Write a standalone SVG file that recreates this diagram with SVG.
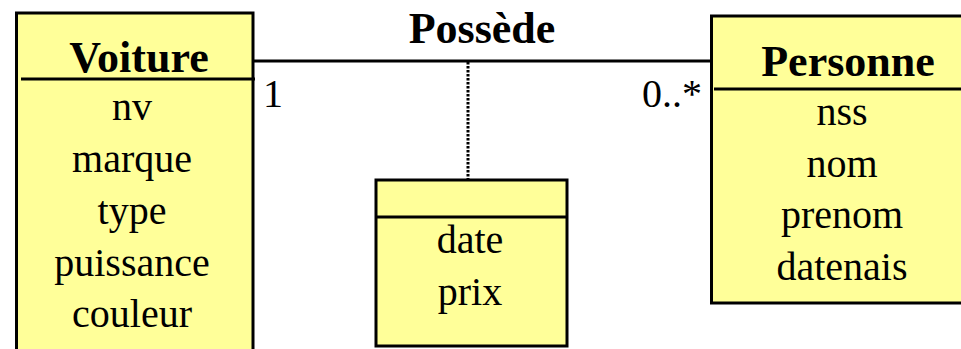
<svg xmlns="http://www.w3.org/2000/svg" width="961" height="349" viewBox="0 0 961 349">
<style>
.box{fill:#FFFF99;stroke:#000;stroke-width:3}
.sep{stroke:#000;stroke-width:3}
.title{font-family:"Liberation Serif","Times New Roman",serif;font-weight:bold;font-size:44px;text-anchor:middle;fill:#000}
.attr{font-family:"Liberation Serif","Times New Roman",serif;font-size:40px;text-anchor:middle;fill:#000}
.mult{font-family:"Liberation Serif","Times New Roman",serif;font-size:40px;fill:#000}
.assoc{stroke:#000;stroke-width:3;fill:none}
.dot{stroke:#000;stroke-width:3;stroke-dasharray:2.5 1.5;fill:none}
</style>
<g id="connectors">
<line class="assoc" x1="253" y1="61" x2="711" y2="61"/>
<line class="dot" x1="468" y1="62" x2="468" y2="180"/>
<text class="title" x="482" y="43">Possède</text>
<text class="mult" x="263" y="107">1</text>
<text class="mult" x="642" y="107">0..*</text>
</g>
<g id="voiture">
<rect class="box" x="16.5" y="13" width="236.5" height="345"/>
<line class="sep" x1="21" y1="79" x2="255" y2="79"/>
<text class="title" x="139" y="72">Voiture</text>
<text class="attr" x="132" y="120">nv</text>
<text class="attr" x="132" y="172">marque</text>
<text class="attr" x="132" y="224">type</text>
<text class="attr" x="132" y="276">puissance</text>
<text class="attr" x="132" y="327">couleur</text>
</g>
<g id="assocclass">
<rect class="box" x="376" y="180" width="191" height="166"/>
<line class="sep" x1="376" y1="217" x2="567" y2="217"/>
<text class="attr" x="470" y="253">date</text>
<text class="attr" x="470" y="305">prix</text>
</g>
<g id="personne">
<rect class="box" x="711.5" y="16" width="260" height="287"/>
<line class="sep" x1="714" y1="89" x2="961" y2="89"/>
<text class="title" x="848" y="76">Personne</text>
<text class="attr" x="842" y="125">nss</text>
<text class="attr" x="842" y="177">nom</text>
<text class="attr" x="842" y="228">prenom</text>
<text class="attr" x="842" y="280">datenais</text>
</g>
</svg>
